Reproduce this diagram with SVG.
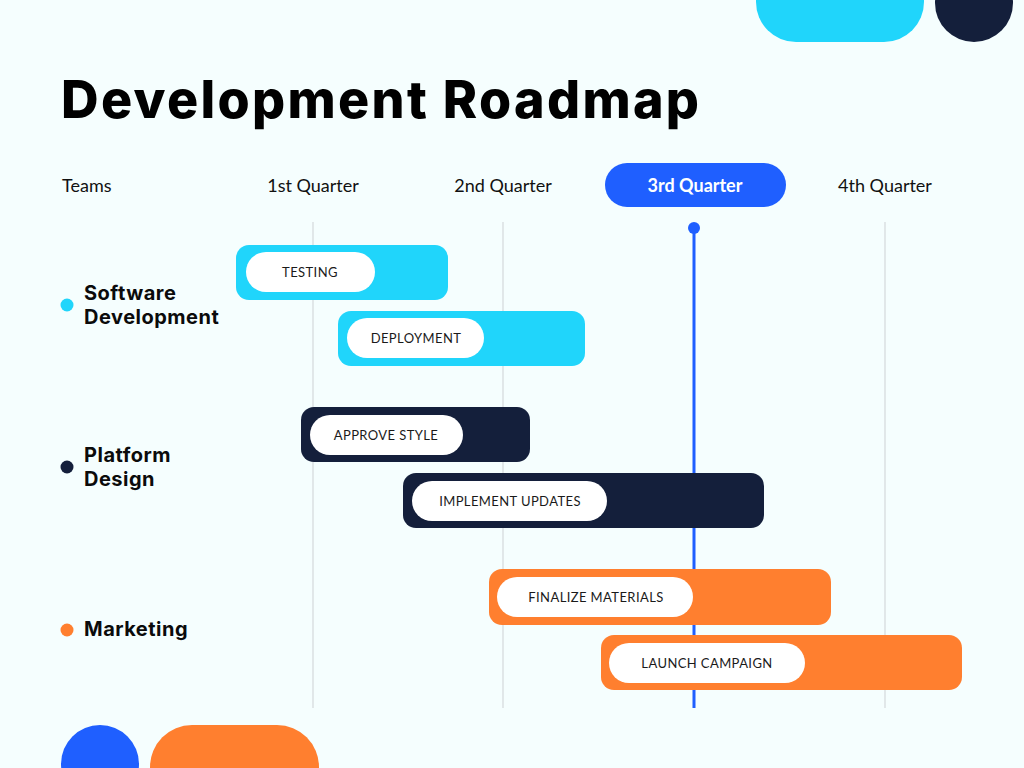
<svg xmlns="http://www.w3.org/2000/svg" width="1024" height="768" viewBox="0 0 1024 768">
<style>
.bg{fill:#F5FEFE}
.grid{stroke:#D4D8DA;stroke-width:1.2}
.hdr{font-family:Lato,"Liberation Sans",sans-serif;font-size:18px;fill:#111;text-anchor:middle}
.team{font-family:Inter,"Liberation Sans",sans-serif;font-weight:700;font-size:20px;fill:#0b0b0b;letter-spacing:0.5px}
.pill{fill:#FFFFFF}
.ptxt{font-family:Lato,"Liberation Sans",sans-serif;font-size:13px;fill:#1a1a1a;text-anchor:middle;letter-spacing:0.4px}
.cyan{fill:#20D5FB}
.navy{fill:#141F3B}
.orange{fill:#FF7F2F}
.blue{fill:#1F5FFF}
</style>
<rect class="bg" x="0" y="0" width="1024" height="768"/>
<g id="decor">
<rect class="cyan" x="756" y="-42" width="168" height="84" rx="40"/>
<circle class="navy" cx="974" cy="3" r="39"/>
<circle class="blue" cx="100" cy="764" r="39"/>
<rect class="orange" x="150" y="725" width="169" height="90" rx="42"/>
</g>
<text id="title" x="61" y="118" font-family="Inter,'Liberation Sans',sans-serif" font-weight="800" font-size="52" fill="#000" textLength="638" lengthAdjust="spacing">Development Roadmap</text>
<g id="header">
<text x="62" y="192" class="hdr" style="text-anchor:start">Teams</text>
<text x="313" y="192" class="hdr">1st Quarter</text>
<text x="503" y="192" class="hdr">2nd Quarter</text>
<rect class="blue" x="605" y="163" width="181" height="44" rx="22"/>
<text x="695" y="192" class="hdr" style="fill:#fff;font-weight:700">3rd Quarter</text>
<text x="885" y="192" class="hdr">4th Quarter</text>
</g>
<g id="connectors">
<line class="grid" x1="313" y1="222" x2="313" y2="708"/>
<line class="grid" x1="503" y1="222" x2="503" y2="708"/>
<line class="grid" x1="885" y1="222" x2="885" y2="708"/>
<line x1="694" y1="228" x2="694" y2="708" stroke="#1F5FFF" stroke-width="3"/>
<circle class="blue" cx="694" cy="228" r="6"/>
</g>
<g id="team-software">
<circle class="cyan" cx="67" cy="305" r="6.5"/>
<text class="team" x="84" y="300">Software</text>
<text class="team" x="84" y="324">Development</text>
</g>
<g id="team-platform">
<circle class="navy" cx="67" cy="467" r="6.5"/>
<text class="team" x="84" y="462">Platform</text>
<text class="team" x="84" y="486">Design</text>
</g>
<g id="team-marketing">
<circle class="orange" cx="67" cy="630" r="6.5"/>
<text class="team" x="84" y="636">Marketing</text>
</g>
<g id="task-testing">
<rect class="cyan" x="236" y="245" width="212" height="55" rx="13"/>
<rect class="pill" x="246" y="252" width="129" height="40" rx="20"/>
<text class="ptxt" x="310" y="277">TESTING</text>
</g>
<g id="task-deployment">
<rect class="cyan" x="338" y="311" width="247" height="55" rx="13"/>
<rect class="pill" x="347" y="318" width="137" height="40" rx="20"/>
<text class="ptxt" x="416" y="343">DEPLOYMENT</text>
</g>
<g id="task-approve">
<rect class="navy" x="301" y="407" width="229" height="55" rx="13"/>
<rect class="pill" x="310" y="415" width="153" height="40" rx="20"/>
<text class="ptxt" x="386" y="440">APPROVE STYLE</text>
</g>
<g id="task-implement">
<rect class="navy" x="403" y="473" width="361" height="55" rx="13"/>
<rect class="pill" x="412" y="481" width="195" height="40" rx="20"/>
<text class="ptxt" x="510" y="506">IMPLEMENT UPDATES</text>
</g>
<g id="task-finalize">
<rect class="orange" x="489" y="569" width="342" height="56" rx="13"/>
<rect class="pill" x="497" y="577" width="196" height="40" rx="20"/>
<text class="ptxt" x="596" y="602">FINALIZE MATERIALS</text>
</g>
<g id="task-launch">
<rect class="orange" x="601" y="635" width="361" height="55" rx="13"/>
<rect class="pill" x="609" y="643" width="196" height="40" rx="20"/>
<text class="ptxt" x="707" y="668">LAUNCH CAMPAIGN</text>
</g>
</svg>
